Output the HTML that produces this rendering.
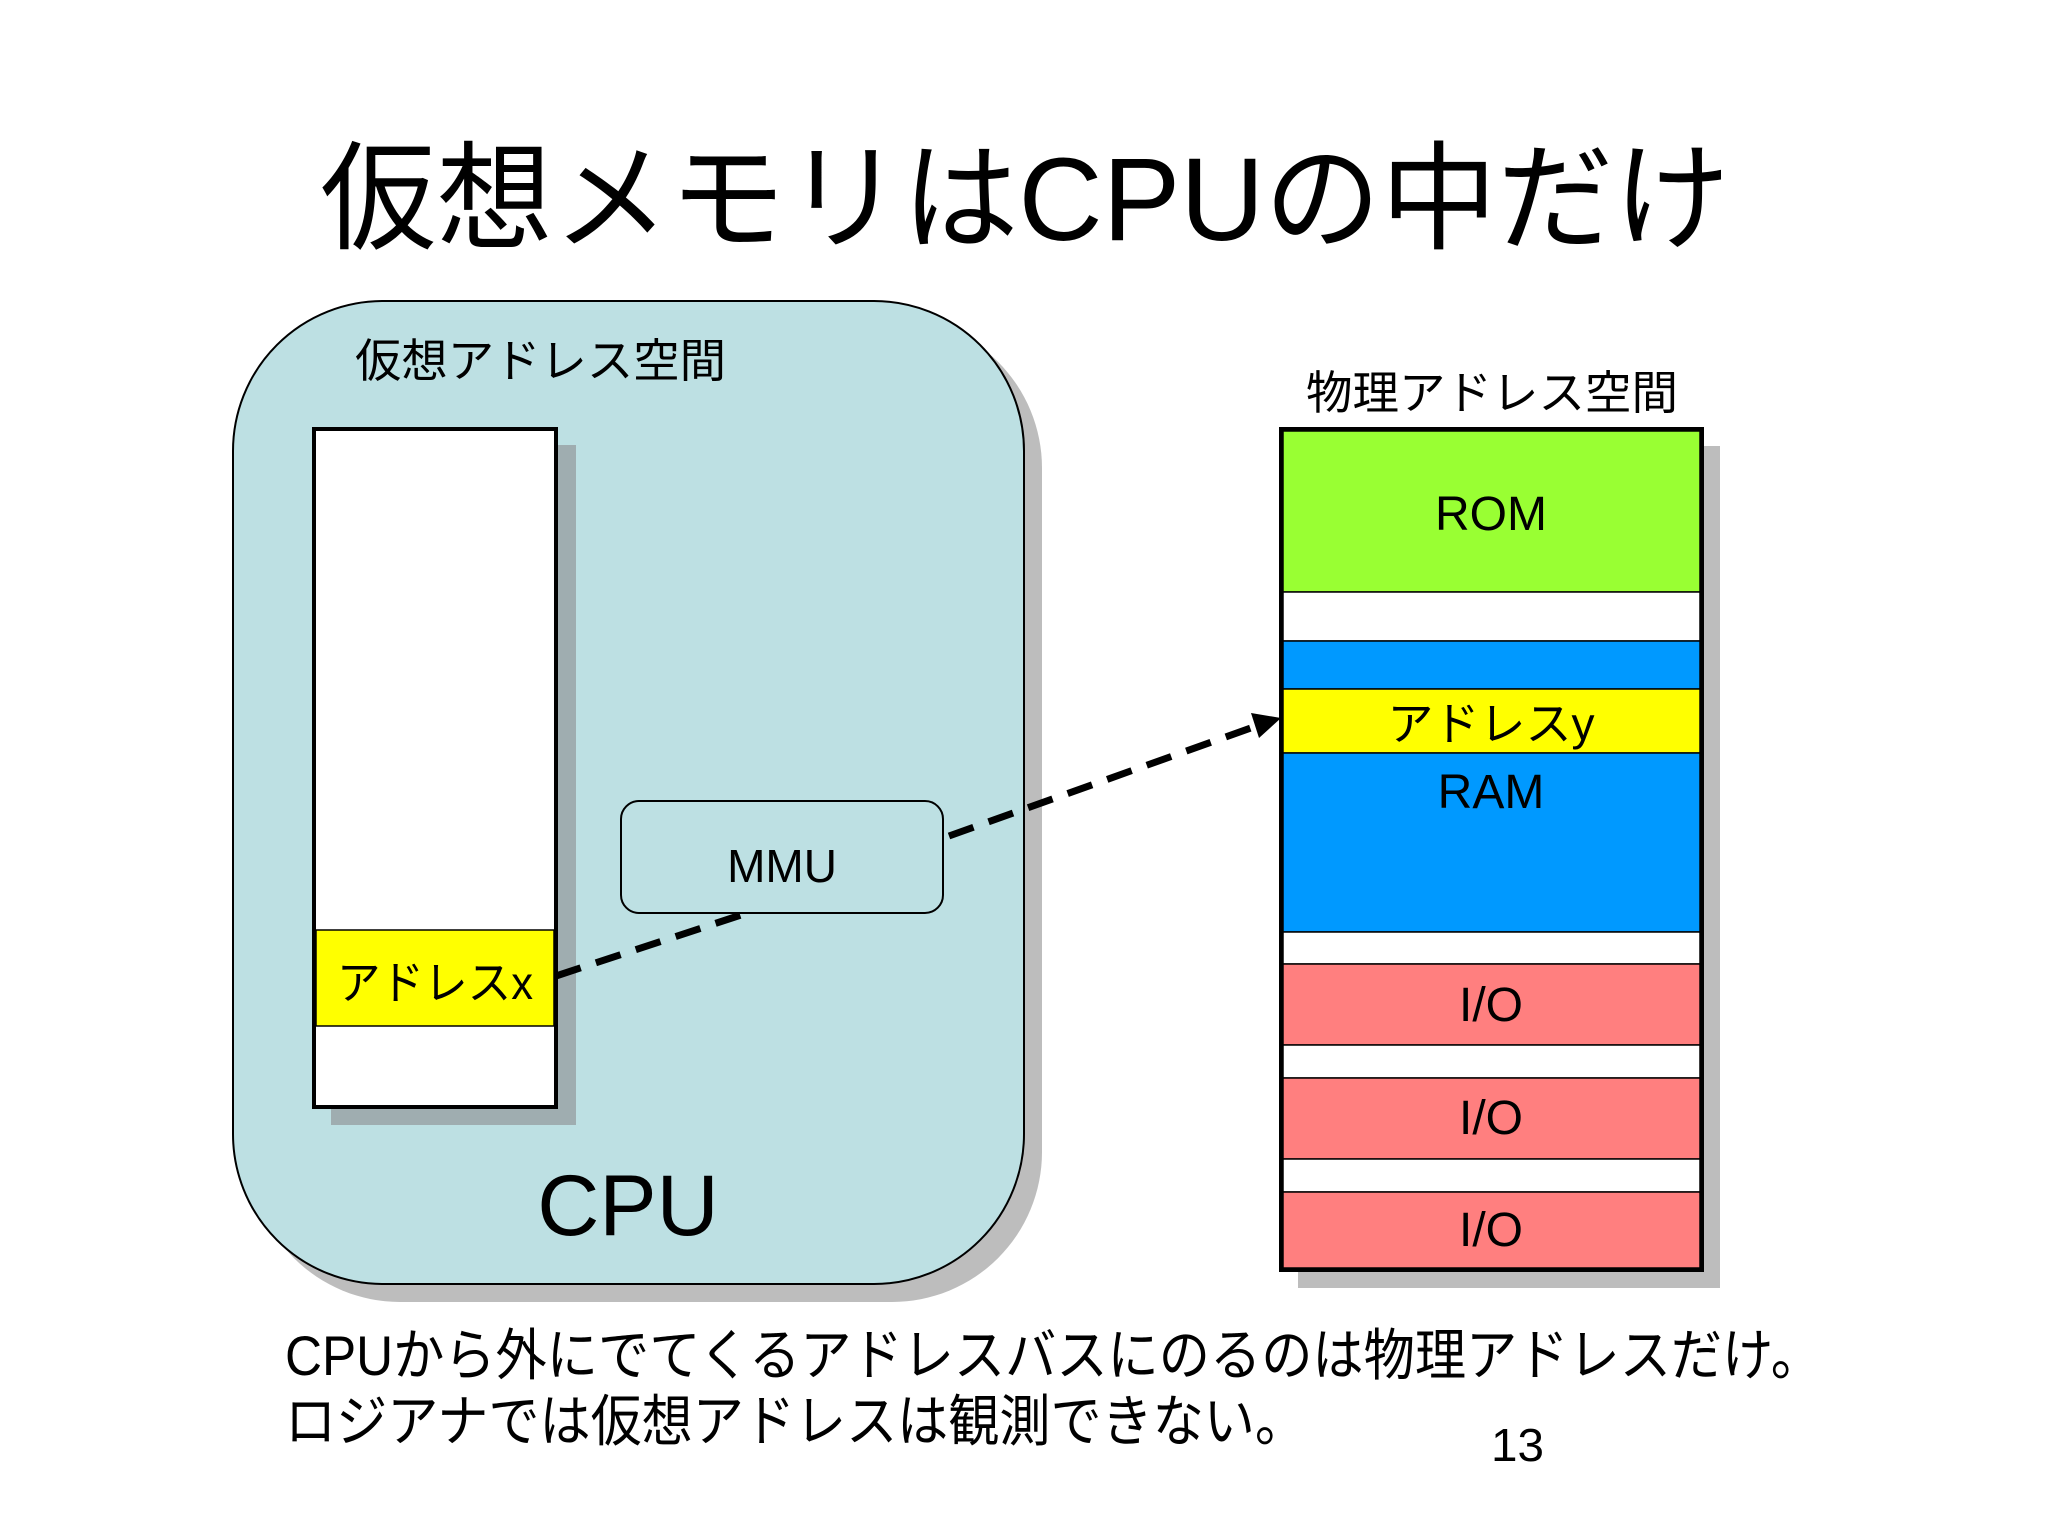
<!DOCTYPE html>
<html><head><meta charset="utf-8"><style>html,body{margin:0;padding:0;background:#fff}svg{display:block}</style></head>
<body>
<svg width="2048" height="1536" viewBox="0 0 2048 1536" xmlns="http://www.w3.org/2000/svg" font-family="'Liberation Sans','Noto Sans CJK JP',sans-serif">
<rect width="2048" height="1536" fill="#fff"/>
<text x="320" y="240" font-size="118" textLength="1410" lengthAdjust="spacingAndGlyphs">仮想メモリはCPUの中だけ</text>
<!-- CPU -->
<rect x="250" y="318" width="792" height="984" rx="150" fill="#bdbdbd"/>
<rect x="233" y="301" width="791" height="983" rx="150" fill="#bde0e3" stroke="#000" stroke-width="2"/>
<text x="355" y="377" font-size="46" textLength="371" lengthAdjust="spacingAndGlyphs">仮想アドレス空間</text>
<!-- virtual column -->
<rect x="331" y="445" width="245" height="680" fill="#9fadb0"/>
<rect x="314" y="429" width="242" height="678" fill="#fff" stroke="#000" stroke-width="4"/>
<rect x="316" y="930" width="238" height="96" fill="#ffff00" stroke="#000" stroke-width="1.5"/>
<text x="337" y="999" font-size="46" textLength="196" lengthAdjust="spacingAndGlyphs">アドレスx</text>
<!-- MMU -->
<rect x="621" y="801" width="322" height="112" rx="18" fill="#bde0e3" stroke="#000" stroke-width="2"/>
<text x="782" y="882" font-size="46" text-anchor="middle">MMU</text>
<text x="628" y="1235" font-size="86" text-anchor="middle">CPU</text>
<!-- physical -->
<text x="1306" y="409" font-size="46" textLength="372" lengthAdjust="spacingAndGlyphs">物理アドレス空間</text>
<rect x="1298" y="446" width="422" height="842" fill="#bdbdbd"/>
<rect x="1281" y="429" width="421" height="841" fill="#fff" stroke="#000" stroke-width="4"/>
<g stroke="#000" stroke-width="1.5">
<rect x="1283" y="431" width="417" height="161" fill="#99ff33"/>
<rect x="1283" y="592" width="417" height="49" fill="#fff"/>
<rect x="1283" y="641" width="417" height="48" fill="#0099ff"/>
<rect x="1283" y="689" width="417" height="64" fill="#ffff00"/>
<rect x="1283" y="753" width="417" height="179" fill="#0099ff"/>
<rect x="1283" y="932" width="417" height="32" fill="#fff"/>
<rect x="1283" y="964" width="417" height="81" fill="#ff7f7f"/>
<rect x="1283" y="1045" width="417" height="33" fill="#fff"/>
<rect x="1283" y="1078" width="417" height="81" fill="#ff7f7f"/>
<rect x="1283" y="1159" width="417" height="33" fill="#fff"/>
<rect x="1283" y="1192" width="417" height="76" fill="#ff7f7f"/>
</g>
<g font-size="48" text-anchor="middle">
<text x="1491" y="530">ROM</text>
<text x="1491" y="740" font-size="46">アドレスy</text>
<text x="1491" y="808">RAM</text>
<text x="1491" y="1021">I/O</text>
<text x="1491" y="1134">I/O</text>
<text x="1491" y="1246">I/O</text>
</g>
<!-- dashed connectors -->
<g stroke="#000" stroke-width="7" stroke-dasharray="26,16" fill="none">
<line x1="556" y1="976" x2="744" y2="914"/>
<line x1="949" y1="836" x2="1262" y2="724"/>
</g>
<polygon points="1281,718 1251,713 1259,738" fill="#000"/>
<!-- bottom text -->
<text x="285" y="1375" font-size="56" textLength="1537" lengthAdjust="spacingAndGlyphs">CPUから外にでてくるアドレスバスにのるのは物理アドレスだけ。</text>
<text x="285" y="1441" font-size="56" textLength="1021" lengthAdjust="spacingAndGlyphs">ロジアナでは仮想アドレスは観測できない。</text>
<text x="1491" y="1461" font-size="46" textLength="53" lengthAdjust="spacingAndGlyphs">13</text>
</svg>
</body></html>
